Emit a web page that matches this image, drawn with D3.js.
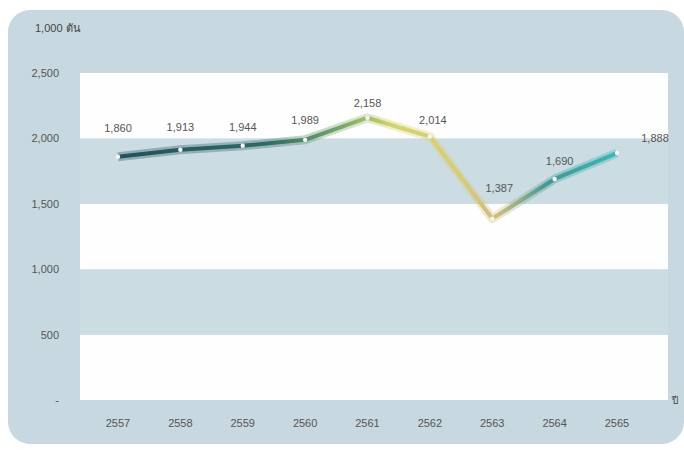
<!DOCTYPE html>
<html>
<head>
<meta charset="utf-8">
<script src="https://cdn.jsdelivr.net/npm/d3@7"></script>
<style>
  body { margin: 0; background: #ffffff; }
  text { font-family: "Liberation Sans", Arial, sans-serif; }
</style>
</head>
<body>
<div class="chart"></div>
<script>
// data
const years = ['2557', '2558', '2559', '2560', '2561', '2562', '2563', '2564', '2565'];
const values = [1860, 1913, 1944, 1989, 2158, 2014, 1387, 1690, 1888];
const labels = ['1,860', '1,913', '1,944', '1,989', '2,158', '2,014', '1,387', '1,690', '1,888'];
const yTicks = [0, 500, 1000, 1500, 2000, 2500];
const yTickLabels = ['-', '500', '1,000', '1,500', '2,000', '2,500'];
const unitLabel = '1,000 ตัน';

// label placement (offsets from each point)
const labelDx = [0, 0, 0, 0, 0, 3, 7, 5, 38];
const labelDy = [25, 19, 15, 16, 11, 13, 27, 14, 11];

const W = 684, H = 450;
const plot = {left: 80, right: 668, top: 73, bottom: 400};

const svg = d3.select('.chart').append('svg')
  .attr('width', W)
  .attr('height', H);

// card background
svg.append('rect')
  .attr('x', 8).attr('y', 10)
  .attr('width', 676).attr('height', 434)
  .attr('rx', 22)
  .attr('fill', '#c8d8e0');

const x = d3.scalePoint()
  .domain(years)
  .range([118, 617]);

const y = d3.scaleLinear()
  .domain([0, 2500])
  .range([plot.bottom, plot.top]);

// bands
const bands = d3.pairs(yTicks);
svg.selectAll('.band')
  .data(bands)
  .enter()
  .append('rect')
  .attr('class', 'band')
  .attr('x', plot.left)
  .attr('width', plot.right - plot.left)
  .attr('y', d => y(d[1]))
  .attr('height', d => y(d[0]) - y(d[1]))
  .attr('fill', (d, i) => i % 2 === 0 ? '#fefefe' : '#ccdce3');

// y axis labels
svg.selectAll('.ylab')
  .data(yTicks)
  .enter()
  .append('text')
  .attr('x', 59)
  .attr('y', d => y(d) + 4)
  .attr('text-anchor', 'end')
  .attr('font-size', 11)
  .attr('fill', '#555')
  .text((d, i) => yTickLabels[i]);

// x axis labels
svg.selectAll('.xlab')
  .data(years)
  .enter()
  .append('text')
  .attr('x', d => x(d))
  .attr('y', 427)
  .attr('text-anchor', 'middle')
  .attr('font-size', 11)
  .attr('fill', '#555')
  .text(d => d);

// unit
svg.append('text')
  .attr('x', 35).attr('y', 32)
  .attr('font-size', 11)
  .attr('fill', '#444')
  .text(unitLabel);

svg.append('text')
  .attr('x', 672).attr('y', 404)
  .attr('font-size', 10)
  .attr('fill', '#444')
  .text('ปี');

// gradient for line
const grad = svg.append('defs').append('linearGradient')
  .attr('id', 'lineGrad')
  .attr('gradientUnits', 'userSpaceOnUse')
  .attr('x1', x(years[0])).attr('x2', x(years[years.length - 1]))
  .attr('y1', 0).attr('y2', 0);
[[0, '#23505a'], [0.3, '#2f6a66'], [0.45, '#7aa86a'], [0.55, '#d2d46a'],
 [0.68, '#d8cc78'], [0.76, '#d0bc80'], [0.86, '#3e9894'], [1, '#3cb8b8']]
  .forEach(s => grad.append('stop').attr('offset', s[0]).attr('stop-color', s[1]));

const line = d3.line()
  .x((d, i) => x(years[i]))
  .y(d => y(d));

svg.append('path')
  .datum(values)
  .attr('d', line)
  .attr('fill', 'none')
  .attr('stroke', 'url(#lineGrad)')
  .attr('stroke-opacity', 0.35)
  .attr('stroke-width', 9)
  .attr('stroke-linejoin', 'round');

svg.append('path')
  .datum(values)
  .attr('d', line)
  .attr('fill', 'none')
  .attr('stroke', 'url(#lineGrad)')
  .attr('stroke-width', 4)
  .attr('stroke-linejoin', 'round');

svg.selectAll('.dot')
  .data(values)
  .enter()
  .append('circle')
  .attr('cx', (d, i) => x(years[i]))
  .attr('cy', d => y(d))
  .attr('r', 2.2)
  .attr('fill', '#f4f8f8');

// value labels
svg.selectAll('.vlab')
  .data(values)
  .enter()
  .append('text')
  .attr('x', (d, i) => x(years[i]) + labelDx[i])
  .attr('y', (d, i) => y(d) - labelDy[i])
  .attr('text-anchor', 'middle')
  .attr('font-size', 11)
  .attr('fill', '#555')
  .text((d, i) => labels[i]);
</script>
</body>
</html>
